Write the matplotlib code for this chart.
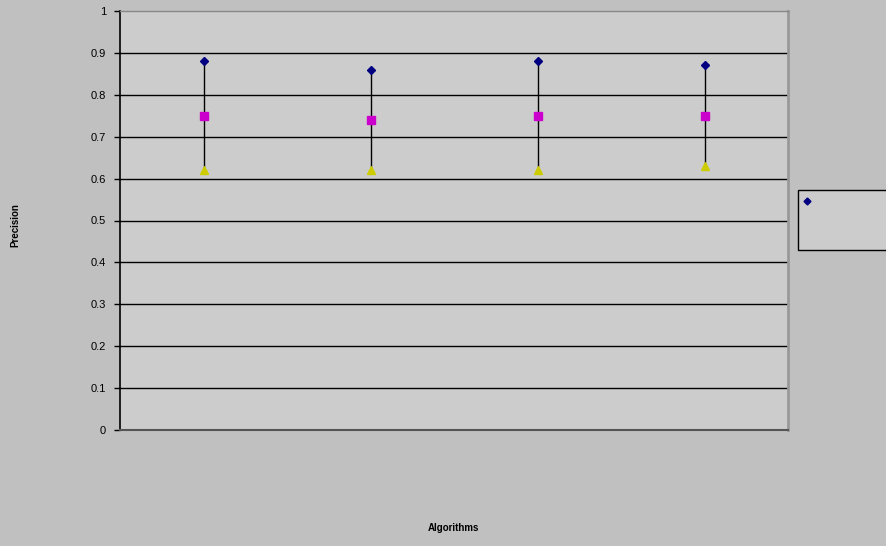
import numpy as np
import matplotlib.pyplot as plt
from matplotlib.patches import Rectangle
from matplotlib.lines import Line2D

plt.rcParams['font.family'] = ['Liberation Sans', 'DejaVu Sans']

# data
algorithms = ['A1', 'A2', 'A3', 'A4']
high = [0.88, 0.86, 0.88, 0.87]
mid = [0.75, 0.74, 0.75, 0.75]
low = [0.62, 0.62, 0.62, 0.63]
yticks = [0, 0.1, 0.2, 0.3, 0.4, 0.5, 0.6, 0.7, 0.8, 0.9, 1]

W, H = 886, 546
fig = plt.figure(figsize=(W / 100, H / 100), dpi=100)
fig.patch.set_facecolor('#c0c0c0')
ax = fig.add_axes([120 / W, 1 - 430 / H, 668 / W, 419 / H])
ax.set_facecolor('#cccccc')

x = np.arange(len(algorithms)) + 0.5

# grid lines
for t in yticks[1:-1]:
    ax.axhline(t, color='black', lw=1, zorder=1)

# high-low lines
ax.vlines(x, low, high, color='black', lw=1, zorder=2)
ax.plot(x, high, 'D', color='#000080', ms=4.5, zorder=3, ls='none')
ax.plot(x, mid, 's', color='#cc00cc', ms=6, zorder=3, ls='none')
ax.plot(x, low, '^', color='#cccc00', ms=6, zorder=3, ls='none')

ax.set_xlim(0, len(algorithms))
ax.set_ylim(0, 1)
ax.set_yticks(yticks)
ax.set_yticklabels([f'{t:g}' for t in yticks], fontsize=8)
ax.set_xticks([])
ax.tick_params(axis='y', length=4, width=1, color='black', pad=6)

ax.spines['left'].set_color('black')
ax.spines['left'].set_linewidth(1.2)
ax.spines['bottom'].set_color('#555555')
ax.spines['bottom'].set_linewidth(1.5)
ax.spines['top'].set_color('#888888')
ax.spines['top'].set_linewidth(1)
ax.spines['right'].set_color('#999999')
ax.spines['right'].set_linewidth(2)

fig.text(15 / W, 1 - 225 / H, 'Precision', rotation=90, ha='center',
         va='center', fontsize=7, fontweight='bold')
fig.text(453 / W, 1 - 528 / H, 'Algorithms', ha='center', va='center',
         fontsize=7, fontweight='bold')

# legend box (clipped at the right edge)
fig.patches.append(Rectangle((798 / W, 1 - 250 / H), 100 / W, 60 / H,
                             transform=fig.transFigure, facecolor='#cccccc',
                             edgecolor='black', lw=1))
fig.lines.append(Line2D([807 / W], [1 - 201 / H], marker='D', color='#000080',
                        ms=3.5, transform=fig.transFigure))

fig.savefig('out.png', dpi=100, facecolor=fig.get_facecolor())
